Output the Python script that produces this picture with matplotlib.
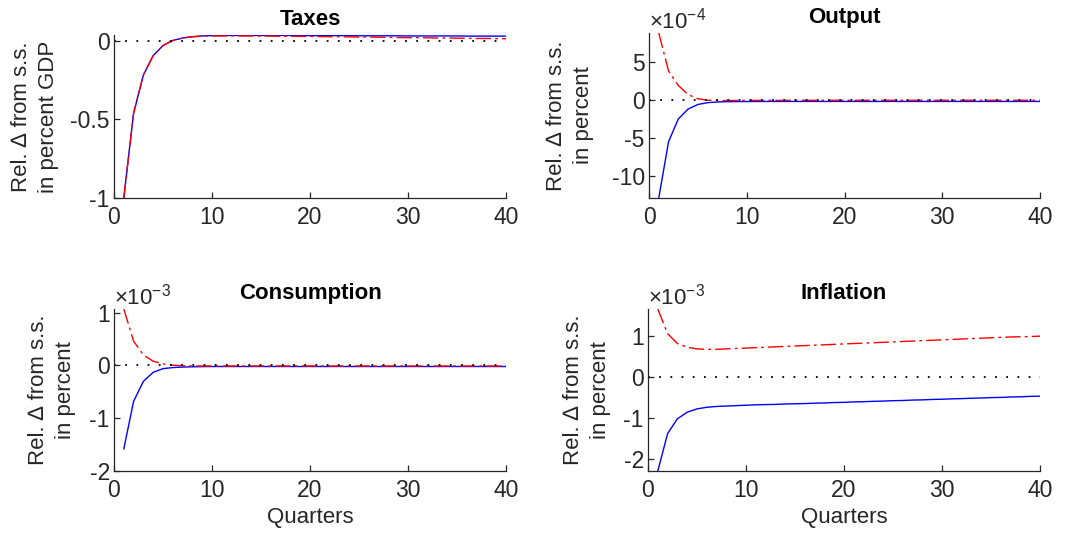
import numpy as np
import matplotlib
matplotlib.use("Agg")
import matplotlib.pyplot as plt

plt.rcParams['font.family'] = ['Liberation Sans', 'DejaVu Sans']
plt.rcParams['mathtext.fontset'] = 'custom'
plt.rcParams['mathtext.rm'] = 'Liberation Sans'
plt.rcParams['mathtext.it'] = 'Liberation Sans:italic'
plt.rcParams['axes.unicode_minus'] = False

quarters = np.arange(1, 41)

titles = ["Taxes", "Output", "Consumption", "Inflation"]
ylabels = ["Rel. \u2206 from s.s.\nin percent GDP", "Rel. \u2206 from s.s.\nin percent",
           "Rel. \u2206 from s.s.\nin percent", "Rel. \u2206 from s.s.\nin percent"]
exponents = [None, -4, -3, -3]

# Taxes (percent of GDP)
taxes_blue = [-1.0, -0.46, -0.217, -0.094, -0.03, 0.002, 0.018, 0.026, 0.031, 0.033,
              0.034, 0.034, 0.034, 0.034, 0.034, 0.034, 0.034, 0.034, 0.034, 0.033,
              0.033, 0.033, 0.033, 0.033, 0.032, 0.032, 0.032, 0.032, 0.032, 0.031,
              0.031, 0.031, 0.031, 0.031, 0.031, 0.030, 0.030, 0.030, 0.030, 0.030]
taxes_red = [-1.0, -0.46, -0.217, -0.094, -0.03, 0.002, 0.018, 0.026, 0.030, 0.031,
             0.031, 0.031, 0.031, 0.031, 0.030, 0.030, 0.029, 0.029, 0.028, 0.028,
             0.027, 0.026, 0.026, 0.025, 0.024, 0.024, 0.023, 0.022, 0.021, 0.020,
             0.020, 0.019, 0.018, 0.018, 0.017, 0.016, 0.015, 0.015, 0.014, 0.013]

# Output (x 1e-4)
output_blue = [-12.9, -5.5, -2.5, -1.2, -0.6, -0.36, -0.27, -0.23, -0.22, -0.21,
               -0.21, -0.2, -0.2, -0.2, -0.2, -0.2, -0.2, -0.2, -0.2, -0.2,
               -0.2, -0.2, -0.2, -0.2, -0.2, -0.2, -0.2, -0.2, -0.2, -0.2,
               -0.2, -0.2, -0.2, -0.2, -0.2, -0.2, -0.2, -0.2, -0.2, -0.2]
output_red = [8.8, 3.8, 1.9, 0.7, 0.15, -0.04, -0.08, -0.08, -0.07, -0.07,
              -0.06, -0.06, -0.06, -0.06, -0.05, -0.05, -0.05, -0.05, -0.05, -0.05,
              -0.05, -0.05, -0.05, -0.05, -0.05, -0.05, -0.05, -0.05, -0.05, -0.05,
              -0.05, -0.05, -0.05, -0.05, -0.05, -0.05, -0.05, -0.05, -0.05, -0.05]

# Consumption (x 1e-3)
cons_blue = [-1.58, -0.68, -0.30, -0.13, -0.06, -0.04, -0.03, -0.025, -0.022, -0.02,
             -0.02, -0.02, -0.02, -0.02, -0.02, -0.02, -0.02, -0.02, -0.02, -0.02,
             -0.02, -0.02, -0.02, -0.02, -0.02, -0.02, -0.02, -0.02, -0.02, -0.02,
             -0.02, -0.02, -0.02, -0.02, -0.02, -0.02, -0.02, -0.02, -0.02, -0.02]
cons_red = [1.07, 0.46, 0.20, 0.08, 0.03, 0.005, -0.005, -0.01, -0.01, -0.01,
            -0.01, -0.01, -0.01, -0.01, -0.01, -0.01, -0.01, -0.01, -0.01, -0.01,
            -0.01, -0.01, -0.01, -0.01, -0.01, -0.01, -0.01, -0.01, -0.01, -0.01,
            -0.01, -0.01, -0.01, -0.01, -0.01, -0.01, -0.01, -0.01, -0.01, -0.01]

# Inflation (x 1e-3)
infl_blue = [-2.29, -1.38, -1.02, -0.86, -0.78, -0.74, -0.72, -0.71, -0.70, -0.69,
             -0.68, -0.675, -0.67, -0.66, -0.655, -0.65, -0.64, -0.635, -0.625, -0.62,
             -0.61, -0.605, -0.595, -0.59, -0.58, -0.575, -0.565, -0.56, -0.55, -0.545,
             -0.535, -0.53, -0.52, -0.515, -0.505, -0.50, -0.49, -0.485, -0.475, -0.47]
infl_red = [1.65, 1.05, 0.81, 0.72, 0.68, 0.67, 0.67, 0.68, 0.69, 0.70,
            0.71, 0.72, 0.73, 0.74, 0.75, 0.76, 0.77, 0.78, 0.79, 0.80,
            0.81, 0.82, 0.83, 0.84, 0.85, 0.86, 0.87, 0.88, 0.89, 0.90,
            0.91, 0.92, 0.93, 0.94, 0.95, 0.96, 0.97, 0.975, 0.98, 0.99]

blue_series = [taxes_blue, output_blue, cons_blue, infl_blue]
red_series = [taxes_red, output_red, cons_red, infl_red]
ylims = [(-1.0, 0.037), (-12.9, 8.8), (-2.0, 1.07), (-2.29, 1.65)]
yticks = [[-1, -0.5, 0], [-10, -5, 0, 5], [-2, -1, 0, 1], [-2, -1, 0, 1]]
yticklabels = [["-1", "-0.5", "0"], ["-10", "-5", "0", "5"], ["-2", "-1", "0", "1"], ["-2", "-1", "0", "1"]]
xticks = [0, 10, 20, 30, 40]

W, H = 1075, 542
fig = plt.figure(figsize=(W / 100, H / 100), dpi=100)

# axes boxes in pixels: left, top, right, bottom
boxes = [(114, 35, 506, 198), (649, 33, 1040, 198), (114, 309, 506, 471), (648, 309, 1040, 471)]
label_x = [35, 570, 52, 587]

axcol = (0.15, 0.15, 0.15)
FS = 16
TFS = 16.5

for i in range(4):
    l, t, r, b = boxes[i]
    ax = fig.add_axes([l / W, 1 - b / H, (r - l) / W, (b - t) / H])
    ax.plot(quarters, blue_series[i], color='blue', lw=1.0, solid_joinstyle='round')
    ax.plot(quarters, red_series[i], color='red', lw=1.0, dashes=(11, 3, 2, 3))
    ax.axhline(0, color='black', lw=1.3, linestyle=(0, (1.0, 5.2)))
    ax.set_xlim(0, 40)
    ax.set_ylim(*ylims[i])
    ax.set_xticks(xticks)
    ax.set_xticklabels([str(v) for v in xticks])
    ax.set_yticks(yticks[i])
    ax.set_yticklabels(yticklabels[i])
    for s in ['top', 'right']:
        ax.spines[s].set_visible(False)
    for s in ['left', 'bottom']:
        ax.spines[s].set_color(axcol)
        ax.spines[s].set_linewidth(0.9)
    ax.tick_params(direction='in', length=4, width=0.9, color=axcol, labelcolor=axcol,
                   labelsize=TFS)
    ax.tick_params(axis='x', pad=6)
    ax.tick_params(axis='y', pad=3)
    ax.set_title(titles[i], fontsize=FS, fontweight='bold', pad=7)
    if exponents[i] is not None:
        ax.text(0.0, 1.0, r'$\mathregular{\times10^{%d}}$' % exponents[i], transform=ax.transAxes,
                ha='left', va='bottom', fontsize=FS, color=axcol)
    fig.text(label_x[i] / W, 1 - ((t + b) / 2) / H, ylabels[i], rotation=90,
             ha='center', va='center', fontsize=FS, color=axcol, linespacing=1.35)
    if i >= 2:
        ax.set_xlabel("Quarters", fontsize=FS, color=axcol, labelpad=3)

fig.savefig("out.png", dpi=100)
